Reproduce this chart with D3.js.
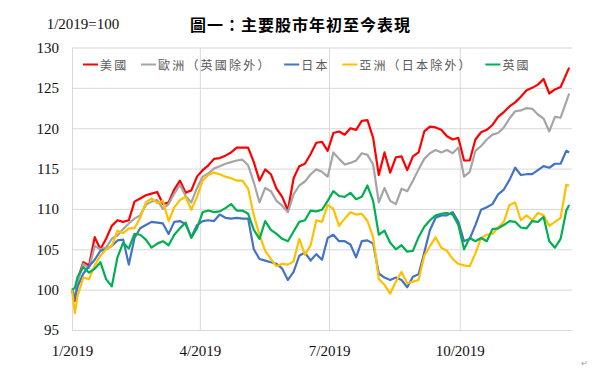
<!DOCTYPE html>
<html><head><meta charset="utf-8">
<script src="https://cdn.jsdelivr.net/npm/d3@7"></script>
<style>body{margin:0;background:#fff} svg{display:block}</style>
</head><body><svg id="c" width="600" height="378"></svg>
<script>
// ---- data ----
const seriesNames = ["美國", "歐洲（英國除外）", "日本", "亞洲（日本除外）", "英國"];
const seriesColors = ["#FF0000", "#A5A5A5", "#4472C4", "#FFC000", "#00B050"];
// trading-day sample offsets (days since 1 Jan 2019)
const dayOffsets = [0, 2].concat(d3.range(4, 349, 4), [350]);
const usa = [100.0, 98.6, 101.3, 103.4, 103.0, 106.5, 105.0, 106.3, 107.9, 108.6,
 108.4, 108.6, 110.9, 111.3, 111.7, 111.9, 112.1, 110.6, 110.8, 112.4,
 113.5, 112.0, 112.3, 114.0, 114.8, 115.4, 116.2, 116.3, 116.6, 117.0,
 117.6, 117.6, 117.6, 115.8, 113.5, 114.9, 114.3, 112.5, 111.5, 109.8,
 113.8, 115.3, 115.6, 116.8, 118.2, 118.3, 117.2, 119.4, 119.6, 119.2,
 120.0, 119.8, 120.9, 121.0, 118.8, 114.2, 117.0, 114.5, 116.4, 116.5,
 114.8, 116.5, 117.0, 119.6, 120.2, 120.1, 119.8, 119.0, 118.6, 118.8,
 116.0, 116.0, 118.6, 119.5, 119.8, 120.4, 121.4, 122.0, 122.7, 123.2,
 123.9, 124.7, 125.0, 125.4, 126.1, 124.3, 124.8, 125.1, 126.7, 127.5];
const europe = [100.0, 99.2, 101.0, 103.2, 102.7, 105.4, 105.0, 105.2, 106.3, 106.7,
 107.5, 108.2, 108.8, 109.2, 110.5, 110.9, 111.1, 110.0, 110.6, 111.9,
 113.0, 111.6, 110.8, 112.6, 114.0, 114.4, 115.0, 115.3, 115.6, 115.8,
 116.0, 116.1, 115.4, 113.3, 110.8, 112.6, 112.2, 111.0, 110.4, 109.6,
 111.8, 112.9, 113.4, 114.3, 114.9, 114.6, 114.0, 117.0, 116.2, 115.5,
 115.7, 116.0, 116.9, 116.7, 115.5, 110.8, 112.6, 111.0, 110.6, 112.5,
 112.2, 113.5, 114.9, 116.2, 116.9, 117.3, 117.0, 117.3, 116.9, 117.6,
 114.0, 114.6, 117.2, 117.8, 118.6, 119.2, 119.4, 120.1, 121.2, 122.1,
 122.2, 122.5, 122.4, 121.7, 121.2, 119.6, 121.4, 121.3, 123.3, 124.3];
const japan = [100.0, 98.8, 100.4, 102.0, 102.9, 103.7, 104.8, 105.0, 105.4, 106.1,
 106.2, 103.1, 106.4, 107.6, 108.0, 108.4, 108.3, 108.2, 106.9, 108.4,
 108.5, 108.1, 106.5, 108.0, 108.5, 108.6, 108.5, 109.3, 108.9, 108.8,
 108.9, 108.8, 108.8, 105.0, 103.8, 103.6, 103.4, 103.2, 102.6, 101.2,
 102.2, 104.2, 104.6, 103.6, 104.4, 103.7, 106.4, 106.8, 106.0, 106.0,
 105.6, 104.0, 106.0, 106.1, 105.7, 102.0, 101.5, 101.2, 101.5, 101.2,
 100.3, 101.6, 101.9, 104.6, 107.4, 108.9, 109.2, 109.2, 109.6, 108.4,
 106.0, 106.3, 108.0, 109.9, 110.2, 110.6, 111.8, 112.4, 113.6, 115.1,
 114.2, 114.3, 114.3, 114.8, 115.3, 115.1, 115.6, 115.6, 117.2, 117.0];
const asia = [100.0, 97.1, 99.3, 101.5, 101.3, 103.0, 104.2, 105.0, 105.4, 107.3,
 107.0, 107.6, 107.6, 108.9, 110.8, 111.3, 110.7, 111.0, 108.5, 110.2,
 111.1, 111.5, 109.9, 111.5, 113.5, 114.2, 114.5, 114.3, 114.0, 113.8,
 113.5, 113.5, 112.5, 109.2, 106.8, 104.8, 103.8, 102.9, 103.2, 103.1,
 103.5, 106.3, 104.3, 105.5, 108.6, 108.4, 110.5, 110.0, 107.9, 108.8,
 109.6, 109.3, 109.4, 108.5, 106.5, 101.3, 100.6, 99.5, 101.0, 102.2,
 100.8, 101.0, 101.2, 104.2, 105.4, 106.5, 105.2, 104.8, 103.8, 103.2,
 103.0, 102.9, 104.5, 106.4, 106.8, 106.9, 107.7, 108.4, 110.5, 110.8,
 108.6, 109.2, 108.6, 109.5, 109.2, 107.9, 108.4, 108.9, 113.0, 112.9];
const uk = [100.0, 100.2, 101.6, 102.8, 102.1, 102.6, 103.4, 101.3, 100.4, 104.0,
 105.8, 105.1, 106.9, 106.8, 106.2, 105.2, 105.7, 106.0, 105.5, 106.8,
 107.6, 108.3, 106.4, 107.6, 109.6, 109.8, 109.6, 109.7, 110.1, 110.6,
 109.8, 109.8, 109.4, 107.4, 106.3, 108.5, 107.4, 106.9, 106.3, 106.0,
 107.2, 108.4, 108.6, 109.8, 109.7, 109.9, 111.0, 112.2, 111.6, 111.5,
 112.0, 111.2, 111.5, 112.9, 111.0, 106.8, 107.3, 105.8, 105.0, 105.5,
 104.7, 104.8, 106.5, 107.8, 108.6, 109.2, 109.4, 109.5, 109.3, 108.0,
 105.0, 106.4, 106.0, 106.4, 106.0, 107.5, 107.6, 108.0, 108.5, 108.4,
 107.7, 107.6, 108.5, 108.4, 109.0, 106.0, 105.2, 106.3, 109.8, 110.5];
const yTicks = [95, 100, 105, 110, 115, 120, 125, 130];
const xTickDates = ["2019-01-01", "2019-04-01", "2019-07-01", "2019-10-01"];
const xTickLabels = ["1/2019", "4/2019", "7/2019", "10/2019"];
const titleText = "圖一：主要股市年初至今表現";
const baseNote = "1/2019=100";

// ---- drawing ----
const svg = d3.select("#c");
const start = new Date(2019, 0, 1);
const dates = dayOffsets.map(d => d3.timeDay.offset(start, d));
const x = d3.scaleTime().domain([start, new Date(2019, 11, 19)]).range([72, 572]);
const y = d3.scaleLinear().domain([95, 130]).range([330, 47.5]);
const parse = d3.timeParse("%Y-%m-%d");
const tickDates = xTickDates.map(parse);

const serif = "'Liberation Serif','Times New Roman',serif";
const cjk = "'Noto Sans CJK TC','Noto Sans CJK SC',sans-serif";

// y axis + horizontal grid
const ya = svg.append("g").attr("transform", "translate(72,0)")
  .call(d3.axisLeft(y).tickValues(yTicks).tickSize(-500).tickPadding(13).tickFormat(d3.format("d")));
ya.select(".domain").remove();
ya.selectAll("line").attr("stroke", "#D9D9D9").attr("stroke-width", 1);
ya.selectAll("text").attr("font-family", serif).attr("font-size", 15).attr("fill", "#111");

// x axis + vertical grid
const xa = svg.append("g").attr("transform", "translate(0,330)")
  .call(d3.axisBottom(x).tickValues(tickDates).tickSize(-282.5).tickPadding(15)
    .tickFormat((d, i) => xTickLabels[i]));
xa.select(".domain").remove();
xa.selectAll("line").attr("stroke", "#D9D9D9").attr("stroke-width", 1);
xa.selectAll("text").attr("font-family", serif).attr("font-size", 15).attr("fill", "#111");

// lines
const allSeries = [usa, europe, japan, asia, uk];
const line = d3.line().x((d, i) => x(dates[i])).y(d => y(d));
allSeries.forEach((s, k) => {
  svg.append("path").datum(s)
    .attr("fill", "none")
    .attr("stroke", seriesColors[k])
    .attr("stroke-width", 2.2)
    .attr("stroke-linejoin", "round")
    .attr("d", line);
});

// legend
let lx = 83;
const ly = 64.5;
seriesNames.forEach((name, k) => {
  svg.append("line").attr("x1", lx).attr("x2", lx + 15).attr("y1", ly).attr("y2", ly)
    .attr("stroke", seriesColors[k]).attr("stroke-width", 2);
  const t = svg.append("text").attr("x", lx + 17).attr("y", ly)
    .attr("dominant-baseline", "central")
    .attr("font-family", cjk).attr("font-size", 12)
    .attr("letter-spacing", "2.2px").attr("fill", "#595959").text(name);
  const w = t.node().getComputedTextLength();
  lx = lx + 17 + w + 12.6;
});

// title and note
svg.append("text").attr("x", 190).attr("y", 30.5)
  .attr("font-family", cjk).attr("font-weight", "bold").attr("font-size", 16)
  .attr("letter-spacing", "1px").attr("fill", "#000").text(titleText);
svg.append("text").attr("x", 46.7).attr("y", 29.3)
  .attr("font-family", serif).attr("font-size", 15).attr("fill", "#111").text(baseNote);
svg.append("text").attr("x", 581).attr("y", 366)
  .attr("font-family", serif).attr("font-size", 8).attr("fill", "#999").text("↵");
</script></body></html>
